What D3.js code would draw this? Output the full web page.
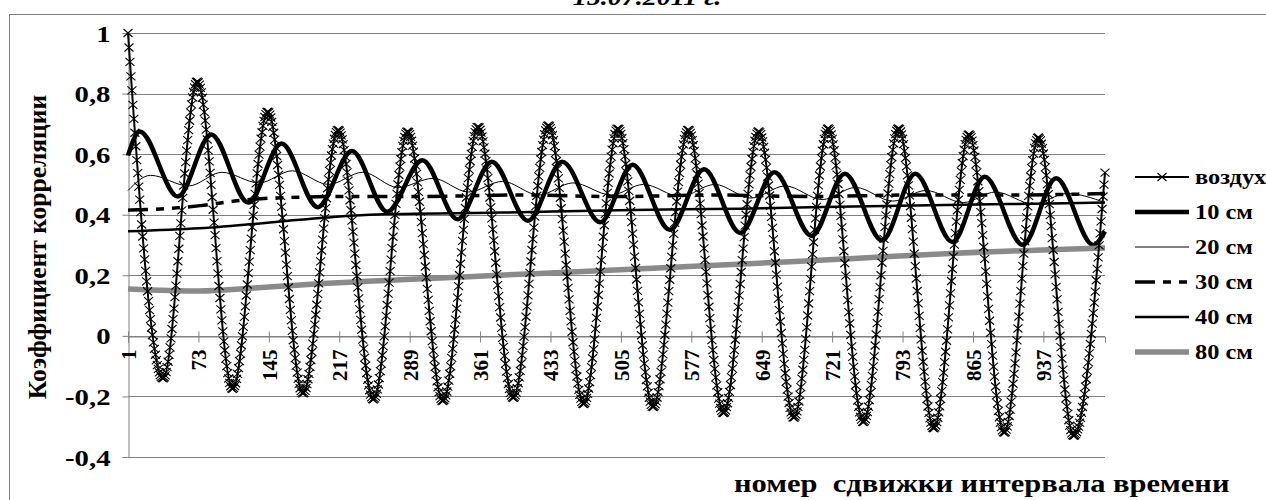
<!DOCTYPE html>
<html><head><meta charset="utf-8">
<script src="https://cdn.jsdelivr.net/npm/d3@7"></script>
<style>body{margin:0;background:#fff}svg{display:block}text{font-family:"Liberation Serif","Times New Roman",serif;font-weight:bold;fill:#000}</style>
</head><body><svg id="chart" width="1266" height="500"></svg>
<script>
// ---------- data ----------
const categoryCount = 1000;
const xTickLabels = [1,73,145,217,289,361,433,505,577,649,721,793,865,937];
const yTickValues = [-0.4,-0.2,0,0.2,0.4,0.6,0.8,1];
const seriesNames = ["воздух","10 см","20 см","30 см","40 см","80 см"];
const chartTitle = "15.07.2011 г.";
const yTitle = "Коэффициент корреляции";
const xTitle = "номер  сдвижки интервала времени";

const airCategories = [1,37,72,108,144,180,216,252,287,323,359,395,431,467,502,538,574,610,646,682,717,753,789,825,861,897,932,968,1000];
const airValues = [1.0,-0.14,0.84,-0.175,0.74,-0.19,0.68,-0.21,0.675,-0.215,0.69,-0.205,0.695,-0.225,0.685,-0.235,0.68,-0.255,0.675,-0.27,0.685,-0.285,0.685,-0.305,0.665,-0.32,0.655,-0.33,0.54];

const cm10Categories = [1,13,52,86,124,158,195,230,266,302,338,373,410,445,484,517,555,590,627,662,700,734,772,806,844,877,916,950,988,1000];
const cm10Values = [0.595,0.675,0.46,0.665,0.44,0.635,0.425,0.61,0.41,0.58,0.385,0.575,0.38,0.575,0.375,0.565,0.35,0.55,0.34,0.54,0.33,0.535,0.315,0.535,0.31,0.525,0.30,0.52,0.30,0.345];

const cm20Categories = [1,24,63,97,135,169,206,241,277,313,349,384,421,456,495,528,566,601,638,673,711,745,783,817,855,888,927,961,1000];
const cm20Values = [0.48,0.53,0.495,0.54,0.505,0.545,0.50,0.54,0.49,0.52,0.475,0.51,0.465,0.505,0.465,0.50,0.46,0.50,0.455,0.495,0.45,0.49,0.445,0.48,0.44,0.475,0.435,0.47,0.44];

const cm30Categories = [1,40,75,110,150,220,300,400,500,600,700,800,900,1000];
const cm30Values = [0.415,0.42,0.43,0.445,0.455,0.46,0.46,0.465,0.46,0.465,0.46,0.465,0.465,0.47];

const cm40Categories = [1,74,177,248,381,503,626,790,900,1000];
const cm40Values = [0.345,0.355,0.383,0.40,0.407,0.415,0.42,0.43,0.435,0.44];

const cm80Categories = [1,74,126,177,279,380,482,580,678,739,842,1000];
const cm80Values = [0.155,0.148,0.157,0.168,0.185,0.2,0.215,0.23,0.245,0.255,0.272,0.29];

// ---------- layout ----------
const SX = 1.22; // horizontal stretch of the original picture's lettering
const svg = d3.select("#chart");
const x = d3.scaleLinear().domain([1, categoryCount]).range([128, 1105]);
const y = d3.scaleLinear().domain([-0.4, 1]).range([457, 33]);
const gridColor = "#808080";

svg.append("rect").attr("x",9.5).attr("y",14.5).attr("width",1300).attr("height",600)
  .attr("fill","none").attr("stroke",gridColor).attr("stroke-width",1);

svg.append("text").attr("transform",`translate(647,5) scale(${SX},1)`).attr("text-anchor","middle")
  .style("font-style","italic").style("font-size","23px").text(chartTitle);

// gridlines
svg.append("g").selectAll("line").data(yTickValues).join("line")
  .attr("x1",128).attr("x2",1105)
  .attr("y1",d=>Math.round(y(d))+0.5).attr("y2",d=>Math.round(y(d))+0.5)
  .attr("stroke",gridColor).attr("stroke-width",1);

// y axis
const yAxis = svg.append("g").attr("transform","translate(128.5,0)")
  .call(d3.axisLeft(y).tickValues(yTickValues).tickSize(6)
    .tickFormat(d=>String(d).replace(".",",")));
yAxis.select(".domain").attr("stroke",gridColor);
yAxis.selectAll(".tick line").attr("stroke",gridColor);
yAxis.selectAll(".tick text").attr("x",null).attr("dy","0.35em")
  .attr("transform",`translate(-18,0) scale(1.25,1)`).attr("text-anchor","end")
  .style("font-size","23px").style("font-family","Liberation Serif").style("font-weight","bold");

// x axis (crossing at 0)
const xAxis = svg.append("g").attr("transform",`translate(0,${Math.round(y(0))+0.5})`)
  .call(d3.axisBottom(x).tickValues(xTickLabels).tickSize(6).tickFormat(d=>d));
xAxis.select(".domain").attr("stroke",gridColor);
xAxis.selectAll(".tick line").attr("stroke",gridColor).attr("y1",-5).attr("y2",6);
xAxis.selectAll("text").attr("transform","rotate(-90)").attr("x",-13).attr("y",0).attr("dy","0.35em")
  .attr("text-anchor","end").style("font-size","21px").style("font-family","Liberation Serif").style("font-weight","bold");

// axis titles
svg.append("text").attr("transform","translate(46,247) rotate(-90)").attr("text-anchor","middle")
  .style("font-size","25.5px").text(yTitle);
svg.append("text").attr("transform",`translate(734,492) scale(${SX},1)`).style("font-size","25px")
  .style("white-space","pre").text(xTitle);

// ---------- series ----------
const line = d3.line().x(d=>x(d[0])).y(d=>y(d[1])).curve(d3.curveMonotoneX);
const zip = (a,b)=>a.map((c,i)=>[c,b[i]]);
const plot = svg.append("g");

const series = [
  {name:"10 см", data:zip(cm10Categories,cm10Values), stroke:"#000", width:4.5, dash:null},
  {name:"20 см", data:zip(cm20Categories,cm20Values), stroke:"#000", width:1, dash:null},
  {name:"30 см", data:zip(cm30Categories,cm30Values), stroke:"#000", width:3.5, dash:"20,8,8,8,8,8"},
  {name:"40 см", data:zip(cm40Categories,cm40Values), stroke:"#000", width:2.5, dash:null},
  {name:"80 см", data:zip(cm80Categories,cm80Values), stroke:"#8a8a8a", width:5.5, dash:null}
];
series.forEach(s=>{
  plot.append("path").attr("d",line(s.data)).attr("fill","none").attr("stroke",s.stroke)
    .attr("stroke-width",s.width).attr("stroke-dasharray",s.dash);
});

// воздух: line + × markers at every category along the drawn line
const airPath = plot.append("path").attr("d",line(zip(airCategories,airValues)))
  .attr("fill","none").attr("stroke","#000").attr("stroke-width",2);
const node = airPath.node();
const total = node.getTotalLength();
const samples = [];
for (let l=0;l<=total;l+=0.5){const p=node.getPointAtLength(l);samples.push([p.x,p.y]);}
const bis = d3.bisector(d=>d[0]).left;
const cats = d3.range(1, categoryCount+1);
const markerPts = cats.map(c=>{const px=x(c);let i=Math.min(bis(samples,px),samples.length-1);return [px,samples[i][1]];});
const crossPath = "M-4.5,-4L4.5,4M-4.5,4L4.5,-4";
plot.append("g").selectAll("path").data(markerPts).join("path")
  .attr("transform",d=>`translate(${d[0]},${d[1]})`).attr("d",crossPath)
  .attr("fill","none").attr("stroke","#000").attr("stroke-width",1.1);

// ---------- legend ----------
const legY = d3.scalePoint().domain(seriesNames).range([177,352]);
const legStyles = [{stroke:"#000",width:2,dash:null,marker:true}].concat(series.map(s=>({stroke:s.stroke,width:s.width,dash:s.dash,marker:false})));
const leg = svg.append("g");
seriesNames.forEach((n,i)=>{
  const yy = legY(n), st = legStyles[i];
  leg.append("line").attr("x1",1135).attr("x2",1189).attr("y1",yy).attr("y2",yy)
    .attr("stroke",st.stroke).attr("stroke-width",st.width).attr("stroke-dasharray",st.dash);
  if(st.marker) leg.append("path").attr("transform",`translate(1162,${yy})`).attr("d",crossPath)
    .attr("fill","none").attr("stroke","#000").attr("stroke-width",1.1);
  leg.append("text").attr("transform",`translate(1195,${yy}) scale(${SX},1)`).attr("dy","0.35em")
    .style("font-size","20px").text(n);
});
</script></body></html>
